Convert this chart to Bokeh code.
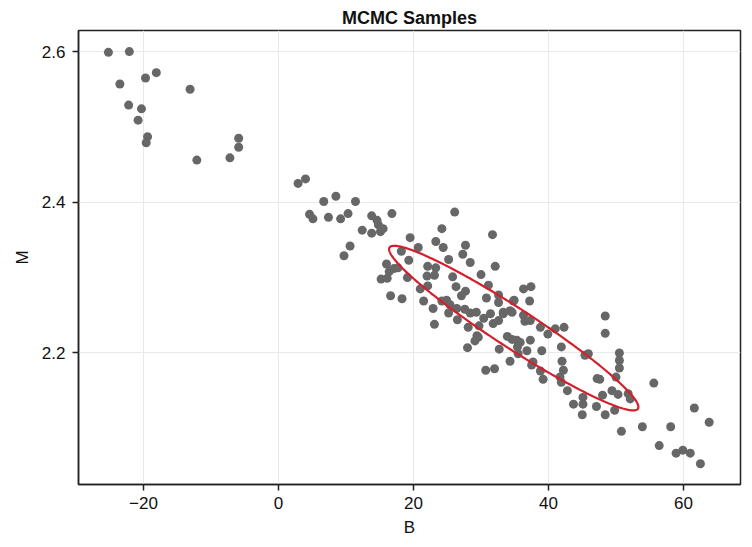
import numpy as np
from bokeh.plotting import figure
from bokeh.models import Range1d, FixedTicker
from bokeh.embed import file_html
from bokeh.resources import INLINE

# ---- data ----
b_left = [-25.2, -22.1, -18.1, -19.7, -23.5, -13.1, -22.2, -20.3, -20.8, -19.4,
          -19.6, -5.9, -5.9, -12.1, -7.2, 2.9, 4.0]
m_left = [2.599, 2.600, 2.572, 2.565, 2.557, 2.550, 2.529, 2.524, 2.509, 2.487,
          2.479, 2.485, 2.473, 2.456, 2.459, 2.425, 2.431]

b_mid = [6.7, 8.5, 11.4, 4.6, 5.1, 7.4, 9.2, 10.3, 13.8, 14.6, 16.8, 12.4, 13.8, 15.1,
         15.5, 14.8, 10.6, 9.7, 26.1, 24.2, 19.5, 23.3, 24.4, 20.7, 27.7, 31.7, 18.2,
         19.3, 25.2, 27.3, 28.4, 32.1, 16.0, 17.1, 17.7, 16.4, 15.2, 16.1, 19.1, 22.1,
         23.3, 22.0, 23.1, 25.8, 26.3, 30.0, 27.7, 27.1, 31.1, 30.8, 32.6, 34.9, 16.6,
         18.3, 21.0, 22.1, 21.5, 22.9, 24.2, 24.9, 25.4, 25.2, 26.4, 26.5, 27.6, 28.4,
         29.3, 28.1, 29.7, 29.4, 30.4, 31.4, 31.8, 32.6, 33.3, 34.3, 33.9, 35.3, 28.0,
         32.7, 23.1, 30.7, 32.0, 34.3, 35.5]
m_mid = [2.401, 2.408, 2.401, 2.384, 2.378, 2.380, 2.378, 2.385, 2.382, 2.376, 2.385,
         2.363, 2.359, 2.361, 2.365, 2.370, 2.342, 2.329, 2.387, 2.365, 2.353, 2.348,
         2.340, 2.340, 2.343, 2.357, 2.335, 2.323, 2.324, 2.331, 2.320, 2.315, 2.318,
         2.312, 2.313, 2.308, 2.298, 2.299, 2.300, 2.315, 2.313, 2.302, 2.303, 2.301,
         2.288, 2.304, 2.282, 2.276, 2.290, 2.273, 2.267, 2.270, 2.276, 2.272, 2.285,
         2.289, 2.269, 2.259, 2.269, 2.270, 2.264, 2.253, 2.259, 2.244, 2.258, 2.253,
         2.254, 2.234, 2.236, 2.223, 2.246, 2.252, 2.239, 2.243, 2.252, 2.256, 2.222,
         2.217, 2.207, 2.205, 2.238, 2.177, 2.179, 2.189, 2.199]

b_right = [36.3, 37.4, 32.6, 34.8, 37.2, 33.3, 34.6, 36.3, 37.3, 36.5, 38.8, 39.9, 41.0,
           42.3, 29.6, 29.1, 34.6, 35.8, 37.3, 35.4, 36.8, 39.0, 37.7, 37.5, 38.8, 39.2,
           41.9, 42.0, 42.2, 41.7, 41.9, 42.8, 43.7, 45.1, 45.1, 45.0, 47.1, 48.4, 48.0,
           49.4, 50.3, 49.8, 47.2, 47.6, 50.0, 50.5, 50.5, 50.5, 48.4, 48.4, 45.9, 45.4,
           51.8, 52.1, 50.8, 53.9, 55.6, 56.4, 58.1, 58.9, 59.9, 61.0, 62.5, 61.6, 63.8]
m_right = [2.285, 2.288, 2.277, 2.269, 2.269, 2.254, 2.254, 2.250, 2.243, 2.242, 2.234,
           2.225, 2.232, 2.234, 2.221, 2.216, 2.218, 2.214, 2.217, 2.208, 2.203, 2.203,
           2.188, 2.184, 2.176, 2.165, 2.208, 2.189, 2.177, 2.168, 2.161, 2.150, 2.132,
           2.132, 2.141, 2.118, 2.129, 2.118, 2.144, 2.150, 2.145, 2.124, 2.166, 2.165,
           2.168, 2.180, 2.190, 2.200, 2.249, 2.226, 2.199, 2.197, 2.146, 2.139, 2.096,
           2.102, 2.160, 2.077, 2.102, 2.067, 2.071, 2.067, 2.053, 2.127, 2.108]

B = b_left + b_mid + b_right
M = m_left + m_mid + m_right

# ellipse (centre and semi-axis vectors in data units)
ell_center = (34.85, 2.233)
ell_major = (18.4, -0.107)
ell_minor = (1.58, 0.022)

x_ticks = [-20, 0, 20, 40, 60]
x_tick_labels = ["\u221220", "0", "20", "40", "60"]
y_ticks = [2.2, 2.4, 2.6]

FONT = "Liberation Sans"

p = figure(width=752, height=547, output_backend="svg", toolbar_location=None,
           x_range=Range1d(-29.63, 68.44), y_range=Range1d(2.0254, 2.628),
           title="MCMC Samples",
           min_border_left=78, min_border_right=12, min_border_top=30,
           min_border_bottom=63)
p.background_fill_color = "white"
p.border_fill_color = "white"
p.outline_line_color = "#222222"
p.outline_line_width = 1.5

p.title.align = "center"
p.title.text_font = FONT
p.title.text_font_size = "18px"
p.title.text_font_style = "bold"
p.title.text_color = "#111111"
p.title.standoff = 6

p.xaxis.ticker = FixedTicker(ticks=x_ticks)
p.xaxis.major_label_overrides = {t: l for t, l in zip(x_ticks, x_tick_labels)}
p.yaxis.ticker = FixedTicker(ticks=y_ticks)
p.xaxis.axis_label = "B"
p.yaxis.axis_label = "M"
for ax in (p.xaxis, p.yaxis):
    ax.axis_line_color = "#222222"
    ax.axis_line_width = 1.5
    ax.major_tick_line_color = "#222222"
    ax.major_tick_line_width = 1.5
    ax.major_tick_out = 6
    ax.major_tick_in = 0
    ax.minor_tick_line_color = None
    ax.major_label_text_font = FONT
    ax.major_label_text_font_size = "17px"
    ax.major_label_text_color = "#111111"
    ax.axis_label_text_font = FONT
    ax.axis_label_text_font_size = "17px"
    ax.axis_label_text_font_style = "normal"
    ax.axis_label_text_color = "#111111"
p.xaxis.major_label_standoff = 6
p.yaxis.major_label_standoff = 7
p.xaxis.axis_label_standoff = 6
p.yaxis.axis_label_standoff = 7

p.grid.grid_line_color = "#e9e9e9"
p.grid.grid_line_width = 1
p.xgrid.ticker = FixedTicker(ticks=x_ticks)
p.ygrid.ticker = FixedTicker(ticks=y_ticks)

p.scatter(B, M, size=9, color="#676767", line_color=None)

t = np.linspace(0, 2 * np.pi, 300)
ex = ell_center[0] + ell_major[0] * np.cos(t) + ell_minor[0] * np.sin(t)
ey = ell_center[1] + ell_major[1] * np.cos(t) + ell_minor[1] * np.sin(t)
p.line(ex, ey, line_color="#d3202c", line_width=2.2)

open("out.html", "w").write(file_html(p, INLINE))
